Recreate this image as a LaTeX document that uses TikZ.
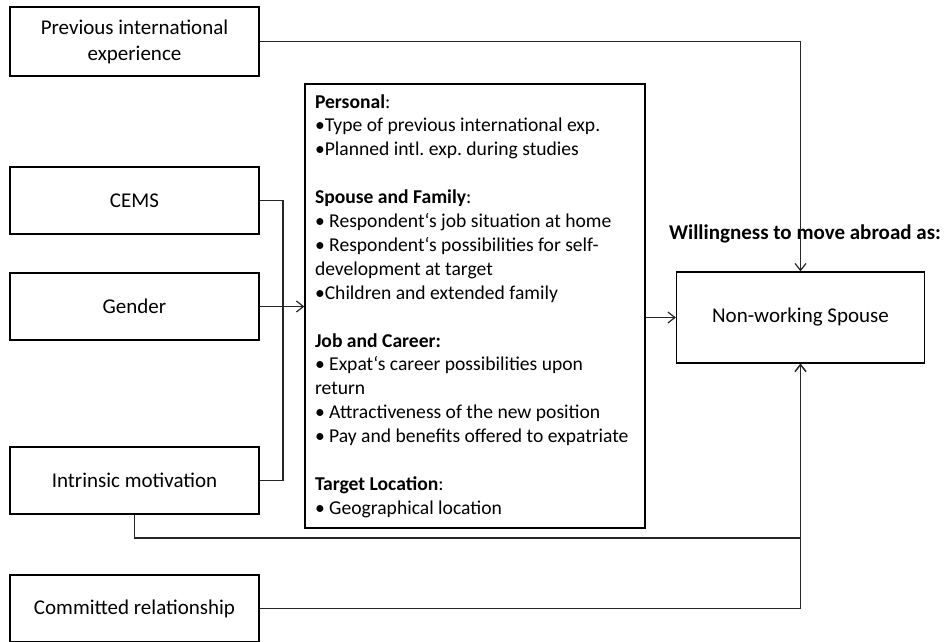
\documentclass[tikz,border=0pt]{standalone}
\usepackage{fontspec}
\setmainfont{Carlito}
\usetikzlibrary{arrows.meta}
\tikzset{
  inbox/.style={draw=black, line width=1.3pt, minimum width=249pt, minimum height=67pt, inner sep=0pt, align=center, font=\fontsize{21}{26}\selectfont},
  conn/.style={draw=black!85, line width=1.2pt},
  arr/.style={conn, -{Straight Barb[length=7pt,width=11pt,line width=1.2pt]}},
}
\begin{document}
\frenchspacing
\begin{tikzpicture}[x=1pt,y=-1pt]
\useasboundingbox (0,0) rectangle (944,641);
\node[inbox, minimum height=69pt] (prev) at (134.5,41.5) {Previous international\\experience};
\node[inbox] (cems) at (134.5,200.5) {CEMS};
\node[inbox] (gender) at (134.5,306.5) {Gender};
\node[inbox] (intr) at (134.5,480.5) {Intrinsic motivation};
\node[inbox] (comm) at (134.5,608.5) {Committed relationship};
\node[draw=black, line width=1.3pt, minimum width=340pt, minimum height=444pt, inner xsep=10pt, inner ysep=0pt, text width=320pt, align=left, font=\fontsize{19.6}{23.9}\selectfont] (big) at (475,306) {\spaceskip=0pt\xspaceskip=0pt%
\textbf{Personal}:\\
•Type of previous international exp.\\
•Planned intl. exp. during studies\\[23.9pt]
\textbf{Spouse and Family}:\\
• Respondent‘s job situation at home\\
• Respondent‘s possibilities for self-\\
development at target\\
•Children and extended family\\[23.9pt]
\textbf{Job and Career:}\\
• Expat‘s career possibilities upon\\
return\\
• Attractiveness of the new position\\
• Pay and benefits offered to expatriate\\[23.9pt]
\textbf{Target Location}:\\
• Geographical location};
\node[draw=black, line width=1.3pt, minimum width=248pt, minimum height=91pt, inner sep=0pt, font=\fontsize{21}{26}\selectfont] (nws) at (800.5,317.5) {Non-working Spouse};
\node[font=\fontsize{21}{26}\selectfont\bfseries, inner sep=0pt] (will) at (805,234) {Willingness to move abroad as:};
\coordinate (j1) at (283,0);
\coordinate (j2) at (0,538);
% connectors
\draw[arr] (prev.east) -- (prev.east -| nws.north) -- (nws.north);
\draw[conn] (cems.east) -- (cems.east -| j1) -- (intr.east -| j1) -- (intr.east);
\draw[arr] (gender.east) -- (gender.east -| big.west);
\draw[arr] (nws.west -| big.east) -- (nws.west);
\draw[arr] (intr.south) -- (intr.south |- j2) -- (j2 -| nws.south) -- (nws.south);
\draw[arr] (comm.east) -- (comm.east -| nws.south) -- (nws.south);
\end{tikzpicture}
\end{document}
